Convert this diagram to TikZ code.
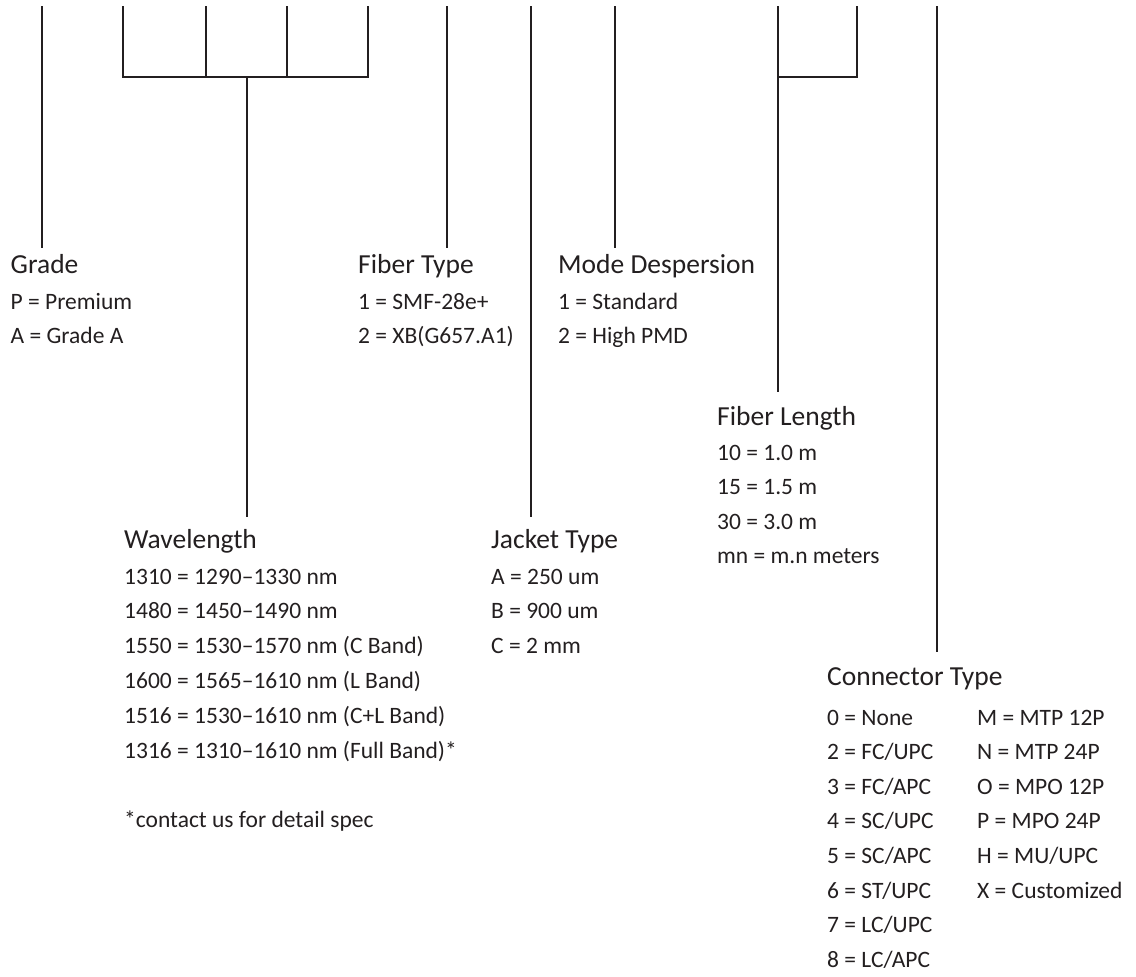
\documentclass[tikz,border=0pt]{standalone}
\usepackage{fontspec}
\setmainfont{Carlito}
\definecolor{ink}{HTML}{231F20}
\begin{document}
\begin{tikzpicture}[x=1pt,y=-1pt,
  conn/.style={draw=ink,line width=2pt},
  head/.style={anchor=base west,inner sep=0pt,text=ink,font=\fontsize{27.5}{33}\selectfont},
  item/.style={anchor=base west,inner sep=0pt,text=ink,font=\fontsize{23.5}{28}\selectfont}]
\useasboundingbox (0,0) rectangle (1136,977);
% headings
\node[head] (grade) at (10.5,273) {Grade};
\node[head] (ftype) at (358,273) {Fiber Type};
\node[head] (mode) at (558,273) {Mode Despersion};
\node[head] (flen) at (717,425) {Fiber Length};
\node[head] (wave) at (124,548) {Wavelength};
\node[head] (jack) at (491,548) {Jacket Type};
\node[head] (conn) at (827,685) {Connector Type};
% items
\node[item] (g1) at (10.5,309) {P = Premium};
\node[item] (g2) at (10.5,343.5) {A = Grade A};
\node[item] (f1) at (358,309) {1 = SMF-28e+};
\node[item] (f2) at (358,343.5) {2 = XB(G657.A1)};
\node[item] (m1) at (558,309) {1 = Standard};
\node[item] (m2) at (558,343.5) {2 = High PMD};
\node[item] (l1) at (717,460) {10 = 1.0 m};
\node[item] (l2) at (717,494.5) {15 = 1.5 m};
\node[item] (l3) at (717,529) {30 = 3.0 m};
\node[item] (l4) at (717,563.5) {mn = m.n meters};
\node[item] (w1) at (124,584) {1310 = 1290–1330 nm};
\node[item] (w2) at (124,618.8) {1480 = 1450–1490 nm};
\node[item] (w3) at (124,653.6) {1550 = 1530–1570 nm (C Band)};
\node[item] (w4) at (124,688.4) {1600 = 1565–1610 nm (L Band)};
\node[item] (w5) at (124,723.2) {1516 = 1530–1610 nm (C+L Band)};
\node[item] (w6) at (124,758) {1316 = 1310–1610 nm (Full Band)*};
\node[item] (w7) at (124,827) {*contact us for detail spec};
\node[item] (j1) at (491,584) {A = 250 um};
\node[item] (j2) at (491,618.8) {B = 900 um};
\node[item] (j3) at (491,653.6) {C = 2 mm};
\foreach \t [count=\i] in {0 = None,2 = FC/UPC,3 = FC/APC,4 = SC/UPC,5 = SC/APC,6 = ST/UPC,7 = LC/UPC,8 = LC/APC}
  \node[item] (ca\i) at (827,{725+34.6*(\i-1)}) {\t};
\foreach \t [count=\i] in {M = MTP 12P,N = MTP 24P,O = MPO 12P,P = MPO 24P,H = MU/UPC,X = Customized}
  \node[item] (cb\i) at (977,{725+34.6*(\i-1)}) {\t};
% connector coordinates
\coordinate (gT) at (42,6);   \coordinate (gB) at (42,248);
\coordinate (w1T) at (123,6); \coordinate (w2T) at (206,6);
\coordinate (w3T) at (287,6); \coordinate (w4T) at (368,6);
\coordinate (w1J) at (123,77); \coordinate (w4J) at (368,77);
\coordinate (wJ) at (247,77); \coordinate (wB) at (247,517);
\coordinate (fT) at (447,6);  \coordinate (fB) at (447,248);
\coordinate (jT) at (531,6);  \coordinate (jB) at (531,517);
\coordinate (mT) at (615,6);  \coordinate (mB) at (615,248);
\coordinate (l1T) at (778,6); \coordinate (l2T) at (857,6);
\coordinate (lJ) at (857,77); \coordinate (lB) at (778,392);
\coordinate (cT) at (937,6);  \coordinate (cB) at (937,652);
\draw[conn] (gT) -- (gB);
\draw[conn] (w1T) -- (w1J) -- (w4J) -- (w4T);
\draw[conn] (w2T) -- (w2T |- w1J);
\draw[conn] (w3T) -- (w3T |- w1J);
\draw[conn] (wJ) -- (wB);
\draw[conn] (fT) -- (fB);
\draw[conn] (jT) -- (jB);
\draw[conn] (mT) -- (mB);
\draw[conn] (l1T) -- (lB);
\draw[conn] (l2T) -- (lJ) -- (l1T |- lJ);
\draw[conn] (cT) -- (cB);
\end{tikzpicture}
\end{document}
